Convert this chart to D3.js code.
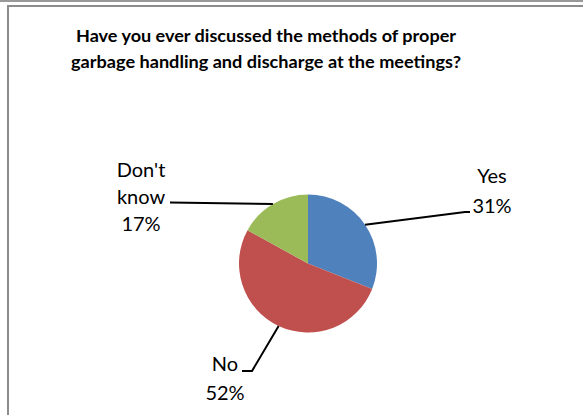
<!DOCTYPE html>
<html><head><meta charset="utf-8">
<script src="https://cdn.jsdelivr.net/npm/d3@7"></script>
<style>body{margin:0;background:#fff;overflow:hidden}</style>
</head><body>
<svg id="c" width="583" height="415"></svg>
<script>
// ---- data ----
const categories = ["Yes", "No", "Don't know"];
const values = [31, 52, 17];
const labelLines = [["Yes", "31%"], ["No", "52%"], ["Don't", "know", "17%"]];
const titleLines = ["Have you ever discussed the methods of proper",
                    "garbage handling and discharge at the meetings?"];
const colors = ["#4F81BD", "#C0504D", "#9BBB59"];

// ---- layout (label placement relative to pie centre) ----
const cx = 308, cy = 263.5, R = 69;
const labelLayout = [
  {dx: 184, dy: -80.5, knee: [157, -51.5], end: [162, -51.5]},
  {dx: -83, dy: 107.5, knee: [-56, 107.5], end: [-66, 107.5]},
  {dx: -167, dy: -86.5, knee: [-138, -61], end: [-138, -61]}
];
const lineGap = [30, 29, 27];

const svg = d3.select("#c");
svg.append("rect").attr("width", 583).attr("height", 415).attr("fill", "#fff");

// frame
svg.append("rect").attr("x", 0).attr("y", 0).attr("width", 583).attr("height", 2).attr("fill", "#999");
svg.append("rect").attr("x", 7).attr("y", 5).attr("width", 576).attr("height", 2).attr("fill", "#8c8c8c");
svg.append("rect").attr("x", 7).attr("y", 5).attr("width", 2).attr("height", 410).attr("fill", "#8c8c8c");

// title
const titleW = [380, 390];
svg.append("g").selectAll("text").data(titleLines).join("text")
  .attr("x", 266).attr("y", (d, i) => 41.5 + i * 26)
  .attr("text-anchor", "middle")
  .attr("font-family", "Lato, 'Open Sans', sans-serif")
  .attr("font-weight", "bold").attr("font-size", 17).attr("fill", "#000")
  .attr("textLength", (d, i) => titleW[i]).attr("lengthAdjust", "spacingAndGlyphs")
  .text(d => d);

// pie
const pie = d3.pie().sort(null).value(d => d);
const arcs = pie(values);
const arc = d3.arc().innerRadius(0).outerRadius(R);
const color = d3.scaleOrdinal().domain(categories).range(colors);
const g = svg.append("g").attr("transform", `translate(${cx},${cy})`);
g.selectAll("path.slice").data(arcs).join("path").attr("class", "slice")
  .attr("d", arc).attr("fill", (d, i) => color(categories[i]));

// leader lines
g.selectAll("path.leader").data(arcs).join("path").attr("class", "leader")
  .attr("d", (d, i) => {
    const a = (d.startAngle + d.endAngle) / 2;
    const p0 = [R * Math.sin(a), -R * Math.cos(a)];
    const L = labelLayout[i];
    return d3.line()([p0, L.knee, L.end]);
  })
  .attr("fill", "none").attr("stroke", "#000").attr("stroke-width", 2);

// labels
arcs.forEach((d, i) => {
  const L = labelLayout[i];
  g.append("g").selectAll("text").data(labelLines[i]).join("text")
    .attr("x", L.dx).attr("y", (t, j) => L.dy + j * lineGap[i])
    .attr("text-anchor", "middle")
    .attr("font-family", "Lato, 'Open Sans', sans-serif")
    .attr("font-size", 20).attr("fill", "#000")
    .text(t => t);
});
</script>
</body></html>
